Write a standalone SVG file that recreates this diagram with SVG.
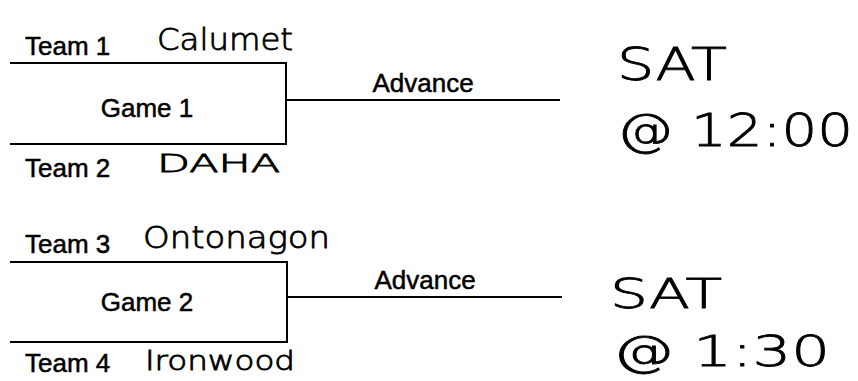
<svg xmlns="http://www.w3.org/2000/svg" width="858" height="381" viewBox="0 0 858 381">
<style>
.lbl{font-family:"Liberation Sans",Arial,sans-serif;font-size:26px;fill:#000;stroke:#000;stroke-width:0.5}
.mid{text-anchor:middle}
.hand{font-family:"DejaVu Sans ExtraLight","DejaVu Sans","Liberation Sans",sans-serif;fill:#000;font-weight:200;stroke:#000;stroke-width:0.8}
.ln{fill:none;stroke:#000;stroke-width:2}
</style>
<rect width="858" height="381" fill="#fff"/>
<g id="game1">
  <path class="ln" d="M10,63 H286 V144 H10"/>
  <text class="lbl mid" x="147" y="117">Game 1</text>
</g>
<g id="team1">
  <text class="lbl" x="25" y="55">Team 1</text>
  <text class="hand" x="157" y="50" font-size="30" textLength="136" lengthAdjust="spacingAndGlyphs">Calumet</text>
</g>
<g id="team2">
  <text class="lbl" x="25" y="177">Team 2</text>
  <text class="hand" x="157" y="172" font-size="24" textLength="123" lengthAdjust="spacingAndGlyphs">DAHA</text>
</g>
<g id="game2">
  <path class="ln" d="M10,262 H287 V342 H10"/>
  <text class="lbl mid" x="147" y="311">Game 2</text>
</g>
<g id="team3">
  <text class="lbl" x="25" y="253">Team 3</text>
  <text class="hand" x="143" y="248" font-size="30" textLength="187" lengthAdjust="spacingAndGlyphs">Ontonagon</text>
</g>
<g id="team4">
  <text class="lbl" x="25" y="372">Team 4</text>
  <text class="hand" x="145" y="370" font-size="26" textLength="150" lengthAdjust="spacingAndGlyphs">Ironwood</text>
</g>
<g id="connectors">
  <line class="ln" x1="286" y1="100" x2="560" y2="100"/>
  <line class="ln" x1="287" y1="297" x2="562" y2="297"/>
</g>
<g id="advance1">
  <text class="lbl mid" x="423" y="92">Advance</text>
</g>
<g id="advance2">
  <text class="lbl mid" x="425" y="289">Advance</text>
</g>
<g id="time1">
  <text class="hand" x="617" y="80" font-size="44" textLength="110" lengthAdjust="spacingAndGlyphs">SAT</text>
  <text class="hand" x="617" y="146" font-size="44" textLength="236" lengthAdjust="spacingAndGlyphs">@ 12:00</text>
</g>
<g id="time2">
  <text class="hand" x="610" y="308" font-size="40" textLength="112" lengthAdjust="spacingAndGlyphs">SAT</text>
  <text class="hand" x="613" y="366" font-size="42" textLength="217" lengthAdjust="spacingAndGlyphs">@ 1:30</text>
</g>
</svg>
